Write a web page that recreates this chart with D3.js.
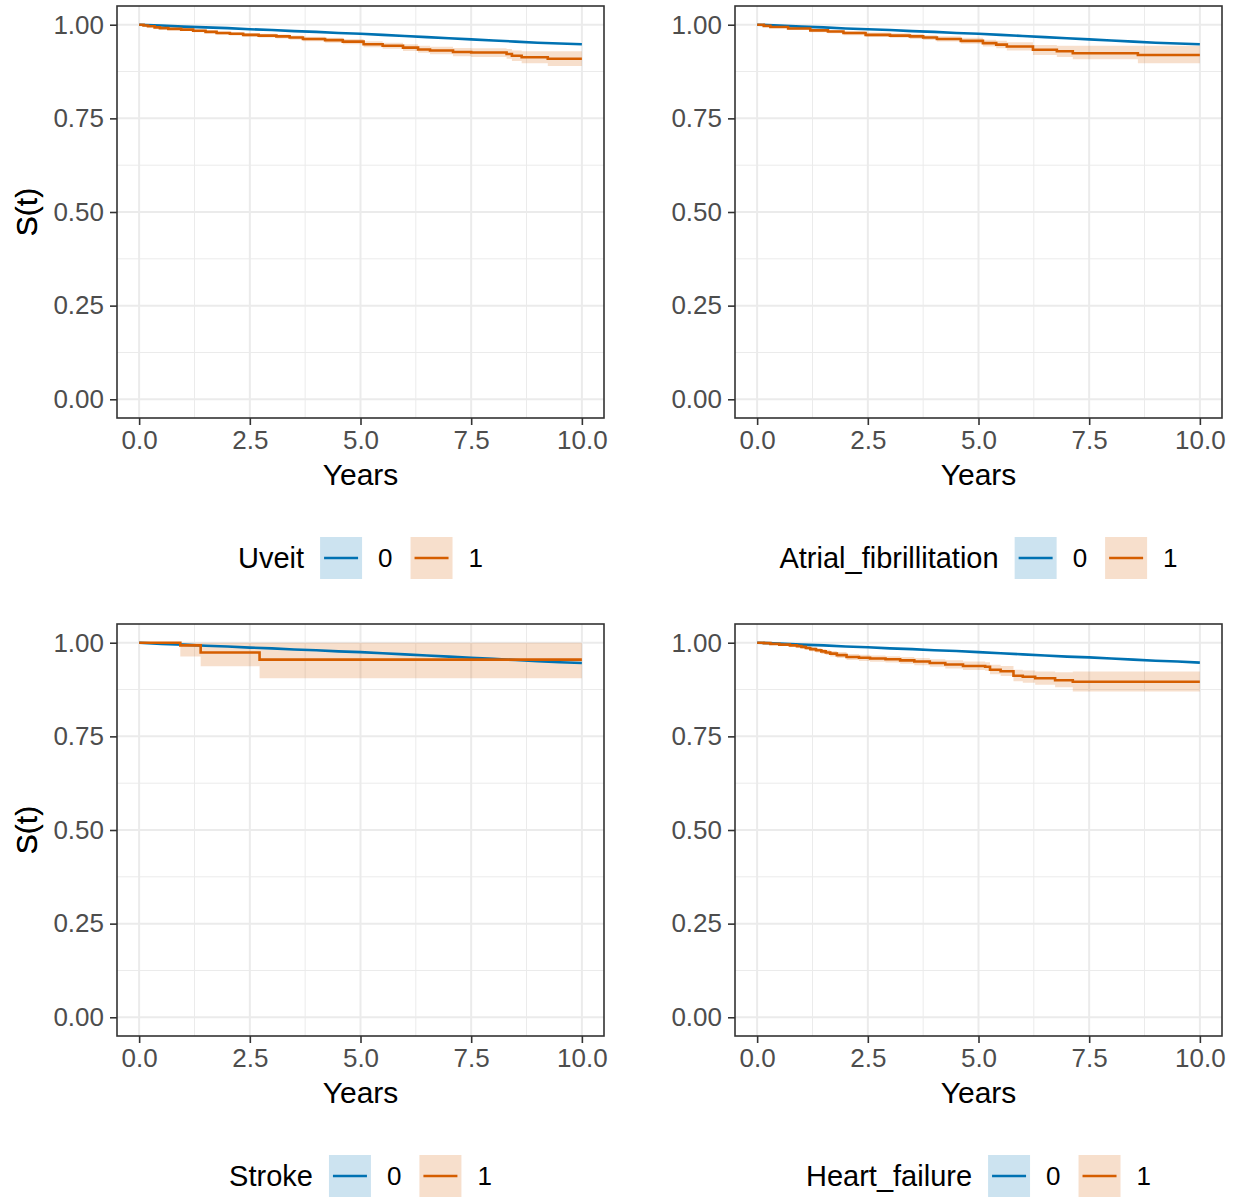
<!DOCTYPE html>
<style>
body { margin: 0; background: #fff; }
text { font-family: "Liberation Sans", Arial, sans-serif; }
</style>
<svg width="1238" height="1198"></svg>
<script src="https://d3js.org/d3.v7.min.js"></script>
<script>

var titles = ["Uveit", "Atrial_fibrillitation", "Stroke", "Heart_failure"];
var groups = ["0", "1"];
var colors = ["#0072B2", "#D55E00"];
var xTicks = [0, 2.5, 5, 7.5, 10];
var xMinor = [1.25, 3.75, 6.25, 8.75];
var yTicks = [0, 0.25, 0.5, 0.75, 1];
var yMinor = [0.125, 0.375, 0.625, 0.875];

// each row: [time, surv, lower, upper]
var uveit0 = [[0,1,1,1],[0.5,0.998,0.997,0.999],[1,0.995,0.994,0.996],[1.5,0.993,0.992,0.994],[2,0.991,0.990,0.992],
  [2.5,0.988,0.987,0.989],[3,0.986,0.985,0.987],[3.5,0.983,0.982,0.984],[4,0.981,0.980,0.982],[4.5,0.978,0.977,0.979],
  [5,0.976,0.975,0.977],[5.5,0.973,0.972,0.974],[6,0.970,0.969,0.971],[6.5,0.967,0.966,0.968],[7,0.964,0.963,0.965],
  [7.5,0.961,0.960,0.962],[8,0.958,0.957,0.959],[8.5,0.955,0.954,0.956],[9,0.952,0.951,0.953],[9.5,0.950,0.949,0.951],[10,0.948,0.947,0.949]];
var uveit1 = [[0,1,1,1],[0.1,0.998,0.996,0.999],[0.2,0.996,0.993,0.998],[0.35,0.993,0.990,0.996],[0.47,0.991,0.988,0.994],
  [0.66,0.989,0.985,0.992],[0.95,0.987,0.983,0.990],[1.22,0.984,0.980,0.988],[1.5,0.981,0.977,0.985],[1.75,0.978,0.973,0.982],
  [2.05,0.976,0.971,0.980],[2.35,0.973,0.968,0.978],[2.7,0.971,0.966,0.976],[3.1,0.969,0.963,0.974],[3.4,0.966,0.960,0.971],
  [3.7,0.962,0.956,0.968],[4.2,0.959,0.952,0.965],[4.6,0.955,0.948,0.962],[5.07,0.948,0.940,0.956],[5.5,0.944,0.936,0.952],
  [5.96,0.939,0.930,0.948],[6.3,0.934,0.925,0.944],[6.57,0.931,0.921,0.941],[7.09,0.927,0.916,0.938],[7.5,0.926,0.914,0.937],
  [8.3,0.922,0.909,0.935],[8.42,0.917,0.903,0.931],[8.64,0.913,0.897,0.929],[9.23,0.909,0.890,0.929],[10,0.909,0.890,0.929]];

var atrial0 = [[0,1,1,1],[0.5,0.998,0.997,0.999],[1,0.995,0.994,0.996],[1.5,0.993,0.992,0.994],[2,0.990,0.989,0.991],
  [2.5,0.988,0.987,0.989],[3,0.986,0.985,0.987],[3.5,0.983,0.982,0.984],[4,0.981,0.980,0.982],[4.5,0.978,0.977,0.979],
  [5,0.976,0.975,0.977],[5.5,0.973,0.972,0.974],[6,0.970,0.969,0.971],[6.5,0.967,0.966,0.968],[7,0.964,0.963,0.965],
  [7.5,0.961,0.960,0.962],[8,0.958,0.957,0.959],[8.5,0.955,0.954,0.956],[9,0.952,0.951,0.953],[9.5,0.950,0.949,0.951],[10,0.948,0.947,0.949]];
var atrial1 = [[0,1,1,1],[0.15,0.997,0.995,0.999],[0.3,0.994,0.991,0.997],[0.7,0.990,0.986,0.994],[1.2,0.985,0.980,0.989],
  [1.6,0.982,0.977,0.986],[1.95,0.978,0.972,0.983],[2.45,0.973,0.967,0.979],[3.0,0.971,0.965,0.977],[3.45,0.969,0.962,0.975],
  [3.75,0.966,0.959,0.972],[4.06,0.962,0.955,0.969],[4.6,0.957,0.949,0.965],[5.1,0.951,0.942,0.960],[5.4,0.947,0.937,0.957],
  [5.64,0.942,0.931,0.953],[6.23,0.933,0.919,0.946],[6.77,0.929,0.914,0.944],[7.13,0.924,0.908,0.944],[8.6,0.919,0.897,0.944],[10,0.919,0.897,0.944]];

var stroke0 = [[0,1,1,1],[0.5,0.997,0.996,0.998],[1,0.995,0.994,0.996],[1.5,0.992,0.991,0.993],[2,0.990,0.989,0.991],
  [2.5,0.987,0.986,0.988],[3,0.985,0.984,0.986],[3.5,0.982,0.981,0.983],[4,0.980,0.979,0.981],[4.5,0.977,0.976,0.978],
  [5,0.975,0.974,0.976],[5.5,0.972,0.971,0.973],[6,0.969,0.968,0.970],[6.5,0.966,0.965,0.967],[7,0.963,0.962,0.964],
  [7.5,0.960,0.959,0.961],[8,0.957,0.956,0.958],[8.5,0.954,0.953,0.955],[9,0.951,0.950,0.952],[9.5,0.948,0.947,0.949],[10,0.946,0.945,0.947]];
var stroke1 = [[0,1,1,1],[0.93,0.993,0.963,1],[1.39,0.974,0.937,1],[2.72,0.955,0.905,1],[10,0.955,0.905,1]];

var heart0 = [[0,1,1,1],[0.5,0.998,0.997,0.999],[1,0.995,0.994,0.996],[1.5,0.993,0.992,0.994],[2,0.990,0.989,0.991],
  [2.5,0.988,0.987,0.989],[3,0.985,0.984,0.986],[3.5,0.983,0.982,0.984],[4,0.980,0.979,0.981],[4.5,0.978,0.977,0.979],
  [5,0.975,0.974,0.976],[5.5,0.972,0.971,0.973],[6,0.969,0.968,0.970],[6.5,0.966,0.965,0.967],[7,0.963,0.962,0.964],
  [7.5,0.961,0.960,0.962],[8,0.958,0.957,0.959],[8.5,0.955,0.954,0.956],[9,0.952,0.951,0.953],[9.5,0.950,0.949,0.951],[10,0.947,0.946,0.948]];
var heart1 = [[0,1,1,1],[0.15,0.999,0.997,1],[0.3,0.997,0.995,0.999],[0.5,0.995,0.992,0.998],[0.74,0.993,0.989,0.996],
  [0.9,0.991,0.987,0.995],[1.0,0.989,0.984,0.993],[1.1,0.986,0.981,0.991],[1.2,0.983,0.977,0.988],[1.33,0.980,0.974,0.986],
  [1.45,0.977,0.970,0.983],[1.55,0.974,0.967,0.981],[1.65,0.971,0.963,0.978],[1.8,0.967,0.959,0.975],[2.02,0.962,0.954,0.970],
  [2.3,0.960,0.951,0.968],[2.55,0.958,0.949,0.966],[2.9,0.956,0.947,0.964],[3.23,0.953,0.944,0.962],[3.55,0.950,0.940,0.959],
  [3.9,0.946,0.936,0.956],[4.25,0.942,0.931,0.953],[4.65,0.938,0.927,0.950],[5.15,0.936,0.925,0.948],[5.26,0.928,0.916,0.941],
  [5.5,0.924,0.911,0.938],[5.79,0.912,0.897,0.928],[6.0,0.909,0.893,0.926],[6.28,0.905,0.888,0.923],[6.73,0.900,0.881,0.921],
  [7.13,0.896,0.870,0.923],[10,0.896,0.870,0.923]];

var panelData = [[uveit0, uveit1], [atrial0, atrial1], [stroke0, stroke1], [heart0, heart1]];

var svg = d3.select("svg");
var pw = 487, ph = 412;
var origins = [[117, 6], [735, 6], [117, 624], [735, 624]];

panelData.forEach(function(series, p) {
  var ox = origins[p][0], oy = origins[p][1];
  var g = svg.append("g").attr("transform", "translate(" + ox + "," + oy + ")");

  var x = d3.scaleLinear().domain([-0.5, 10.5]).range([0, pw]);
  var y = d3.scaleLinear().domain([-0.05, 1.05]).range([ph, 0]);

  // grid
  g.selectAll(".xminor").data(xMinor).enter().append("line")
      .attr("x1", x).attr("x2", x).attr("y1", 0).attr("y2", ph)
      .attr("stroke", "#ebebeb").attr("stroke-width", 1);
  g.selectAll(".yminor").data(yMinor).enter().append("line")
      .attr("y1", y).attr("y2", y).attr("x1", 0).attr("x2", pw)
      .attr("stroke", "#ebebeb").attr("stroke-width", 1);
  g.selectAll(".xmajor").data(xTicks).enter().append("line")
      .attr("x1", x).attr("x2", x).attr("y1", 0).attr("y2", ph)
      .attr("stroke", "#ebebeb").attr("stroke-width", 2);
  g.selectAll(".ymajor").data(yTicks).enter().append("line")
      .attr("y1", y).attr("y2", y).attr("x1", 0).attr("x2", pw)
      .attr("stroke", "#ebebeb").attr("stroke-width", 2);

  // group 0 has so many events that its steps fall under a pixel
  function curveFor(i) { return i === 0 ? d3.curveLinear : d3.curveStepAfter; }

  series.forEach(function(s, i) {
    var area = d3.area().curve(curveFor(i))
        .x(function(d) { return x(d[0]); })
        .y0(function(d) { return y(d[2]); })
        .y1(function(d) { return y(d[3]); });
    g.append("path").attr("d", area(s)).attr("fill", colors[i]).attr("fill-opacity", 0.2);
  });
  series.forEach(function(s, i) {
    var line = d3.line().curve(curveFor(i))
        .x(function(d) { return x(d[0]); })
        .y(function(d) { return y(d[1]); });
    g.append("path").attr("d", line(s)).attr("fill", "none")
        .attr("stroke", colors[i]).attr("stroke-width", 2.6);
  });

  g.append("rect").attr("width", pw).attr("height", ph)
      .attr("fill", "none").attr("stroke", "#333333").attr("stroke-width", 1.6);

  // axes
  var xa = g.append("g").attr("transform", "translate(0," + ph + ")")
      .call(d3.axisBottom(x).tickValues(xTicks).tickSize(7).tickPadding(6).tickFormat(d3.format(".1f")));
  var ya = g.append("g")
      .call(d3.axisLeft(y).tickValues(yTicks).tickSize(7).tickPadding(6).tickFormat(d3.format(".2f")));
  [xa, ya].forEach(function(a) {
    a.select(".domain").remove();
    a.selectAll("line").attr("stroke", "#333333").attr("stroke-width", 1.6);
    a.selectAll("text").attr("fill", "#4d4d4d").attr("font-size", 26)
        .attr("font-family", "Liberation Sans, Arial, sans-serif");
  });

  g.append("text")
      .attr("x", pw / 2).attr("y", ph + 67)
      .attr("text-anchor", "middle").attr("font-size", 30).attr("fill", "#000")
      .text("Years");
  g.append("text")
      .attr("transform", "translate(" + (37 - ox) + "," + (y(0.5)) + ") rotate(-90)")
      .attr("text-anchor", "middle").attr("font-size", 30).attr("fill", "#000")
      .text("S(t)");

  // legend
  var lg = g.append("g");
  var cx = 0;
  var t = lg.append("text").attr("x", cx).attr("dy", "0.35em")
      .attr("font-size", 29).attr("fill", "#000").text(titles[p]);
  cx += t.node().getComputedTextLength() + 16;
  groups.forEach(function(k, i) {
    lg.append("rect").attr("x", cx).attr("y", -21).attr("width", 42).attr("height", 42)
        .attr("fill", colors[i]).attr("fill-opacity", 0.2);
    lg.append("line").attr("x1", cx + 4).attr("x2", cx + 38)
        .attr("stroke", colors[i]).attr("stroke-width", 2.6);
    cx += 42 + 16;
    var lt = lg.append("text").attr("x", cx).attr("dy", "0.35em")
        .attr("font-size", 26).attr("fill", "#000").text(k);
    cx += lt.node().getComputedTextLength() + 18;
  });
  cx -= 18;
  lg.attr("transform", "translate(" + (pw / 2 - cx / 2) + "," + (ph + 140) + ")");
});

</script>
